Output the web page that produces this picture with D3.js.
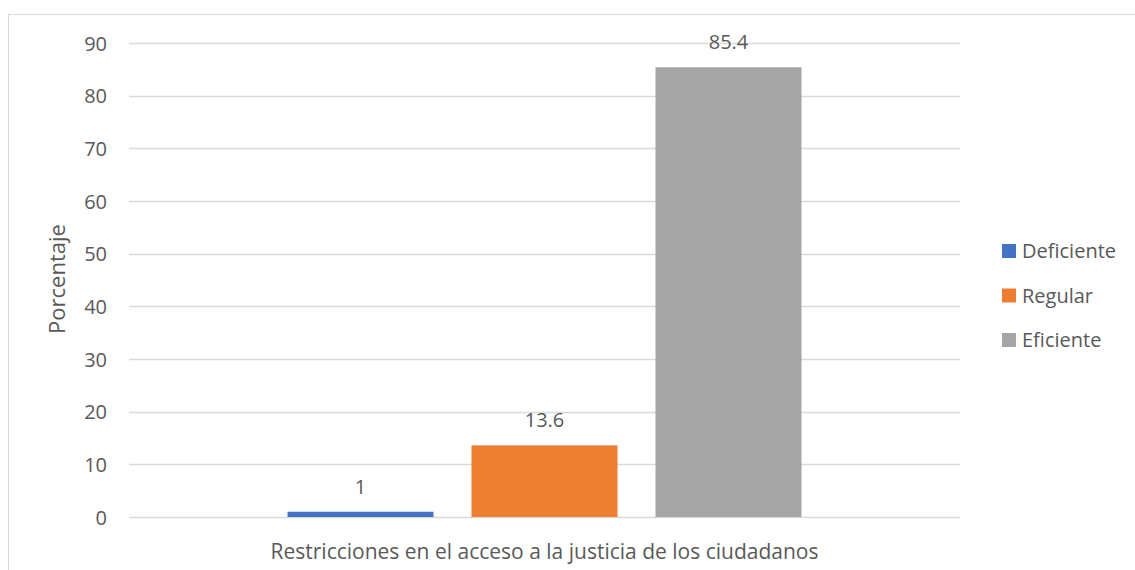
<!DOCTYPE html>
<html>
<head>
<meta charset="utf-8">
<script src="https://cdn.jsdelivr.net/npm/d3@7"></script>
<style>
  body { margin: 0; background: #fff; }
  svg text { font-family: "Open Sans", sans-serif; fill: #595959; }
</style>
</head>
<body>
<div class="chart"></div>
<script>
// data
var categories = ["Deficiente", "Regular", "Eficiente"];
var values = [1, 13.6, 85.4];
var colors = ["#4472C4", "#ED7D31", "#A5A5A5"];
var yTicks = [0, 10, 20, 30, 40, 50, 60, 70, 80, 90];
var groupLabel = "Restricciones en el acceso a la justicia de los ciudadanos";
var yTitle = "Porcentaje";

var width = 1135, height = 570,
    plot = {left: 129, right: 960, top: 43, bottom: 517};

var svg = d3.select(".chart").append("svg")
    .attr("width", width)
    .attr("height", height);

// chart area frame
svg.append("rect")
    .attr("x", 8.5).attr("y", 14.5)
    .attr("width", 1300).attr("height", 700)
    .style("fill", "none")
    .style("stroke", "#d9d9d9");

var y = d3.scaleLinear().domain([0, 90]).range([plot.bottom, plot.top]);

// outer band for the single category, inner band for the series
var x0 = d3.scaleBand().domain([groupLabel]).range([plot.left, plot.right]).paddingInner(0).paddingOuter(0.3084);
var x1 = d3.scaleBand().domain(categories).range([0, x0.bandwidth()]).paddingInner(0.2065).paddingOuter(0);

// gridlines
svg.append("g").selectAll("line")
    .data(yTicks)
    .enter().append("line")
    .attr("x1", plot.left).attr("x2", plot.right)
    .attr("y1", function(d) { return Math.round(y(d)) + 0.5; })
    .attr("y2", function(d) { return Math.round(y(d)) + 0.5; })
    .style("stroke", "#d9d9d9")
    .style("stroke-width", 1.3);

// y axis labels
var yAxis = svg.append("g")
    .attr("transform", "translate(" + (plot.left - 22) + ",0)")
    .call(d3.axisLeft(y).tickValues(yTicks).tickSize(0).tickPadding(0));
yAxis.select(".domain").remove();
yAxis.selectAll("text")
    .style("font-size", "20px")
    .style("font-family", "'Open Sans', sans-serif")
    .attr("fill", "#595959")
    .attr("dy", "0.35em");

// bars
var group = svg.append("g")
    .attr("transform", "translate(" + x0(groupLabel) + ",0)");

group.selectAll("rect")
    .data(values)
    .enter().append("rect")
    .attr("x", function(d, i) { return x1(categories[i]); })
    .attr("y", function(d) { return y(d); })
    .attr("width", x1.bandwidth())
    .attr("height", function(d) { return y(0) - y(d); })
    .style("fill", function(d, i) { return colors[i]; });

group.selectAll("text.value")
    .data(values)
    .enter().append("text")
    .attr("class", "value")
    .attr("x", function(d, i) { return x1(categories[i]) + x1.bandwidth() / 2; })
    .attr("y", function(d) { return y(d) - 18; })
    .style("text-anchor", "middle")
    .style("font-size", "20px")
    .text(function(d) { return d; });

// category label
svg.append("text")
    .attr("x", x0(groupLabel) + x0.bandwidth() / 2)
    .attr("y", 559)
    .style("text-anchor", "middle")
    .style("font-size", "21px")
    .text(groupLabel);

// axis title
svg.append("text")
    .attr("transform", "translate(65,279) rotate(-90)")
    .style("text-anchor", "middle")
    .style("font-size", "22px")
    .text(yTitle);

// legend
var legend = svg.append("g").selectAll("g")
    .data(categories)
    .enter().append("g")
    .attr("transform", function(d, i) { return "translate(1002," + (251 + i * 44.5) + ")"; });

legend.append("rect")
    .attr("x", 0).attr("y", -7)
    .attr("width", 14).attr("height", 14)
    .style("fill", function(d, i) { return colors[i]; });

legend.append("text")
    .attr("x", 20)
    .attr("dy", "0.35em")
    .style("font-size", "20px")
    .text(function(d) { return d; });
</script>
</body>
</html>
